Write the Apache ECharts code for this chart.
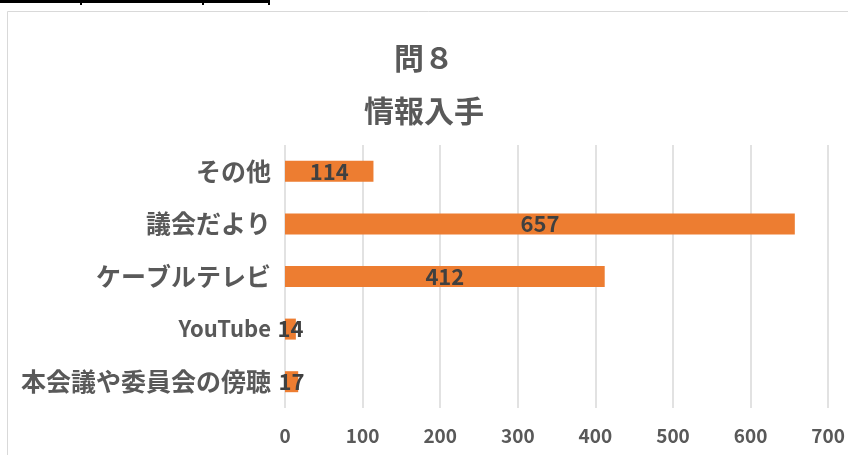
<!DOCTYPE html>
<html>
<head>
<meta charset="utf-8">
<script src="https://cdn.jsdelivr.net/npm/echarts@6/dist/echarts.min.js"></script>
<style>
  html, body { margin: 0; padding: 0; background: #fff; }
  #chart { width: 848px; height: 455px; }
</style>
</head>
<body>
<div id="chart"></div>
<script>
// data
const categories = ["その他", "議会だより", "ケーブルテレビ", "YouTube", "本会議や委員会の傍聴"];
const counts = [114, 657, 412, 14, 17];
const xTicks = [0, 100, 200, 300, 400, 500, 600, 700];

const font = '"Noto Sans CJK JP", "Noto Sans", sans-serif';
const grey = "#595959";

// latin-only labels are drawn a little smaller, as in the original
const yData = categories.map(c =>
  /^[A-Za-z ]+$/.test(c) ? { value: c, textStyle: { fontSize: 22 } } : c
);

const chart = echarts.init(document.getElementById("chart"));
chart.setOption({
  animation: false,
  backgroundColor: "#fff",
  title: [
    {
      text: "問８",
      left: "center",
      top: 38,
      textStyle: { fontFamily: font, fontSize: 30, fontWeight: "bold", color: grey }
    },
    {
      text: "情報入手",
      left: "center",
      top: 91,
      textStyle: { fontFamily: font, fontSize: 30, fontWeight: "bold", color: grey }
    }
  ],
  grid: { left: 285, right: 17, top: 145, bottom: 47 },
  xAxis: {
    type: "value",
    min: xTicks[0],
    max: xTicks[xTicks.length - 1],
    interval: 100,
    axisLine: { show: false },
    axisTick: { show: false },
    axisLabel: {
      margin: 18,
      fontFamily: font,
      fontSize: 19,
      fontWeight: "bold",
      color: grey
    },
    splitLine: { lineStyle: { color: "#d9d9d9", width: 1.5 } }
  },
  yAxis: {
    type: "category",
    inverse: true,
    data: yData,
    axisLine: { show: false },
    axisTick: { show: false },
    axisLabel: {
      margin: 14,
      fontFamily: font,
      fontSize: 25,
      fontWeight: "bold",
      color: grey
    }
  },
  series: [
    {
      type: "bar",
      data: counts,
      barWidth: 21,
      itemStyle: { color: "#ED7D31" },
      label: {
        show: true,
        position: "inside",
        fontFamily: font,
        fontSize: 22,
        fontWeight: "bold",
        color: "#404040"
      }
    }
  ],
  graphic: [
    {
      type: "rect",
      shape: { x: 7.5, y: 11.5, width: 845, height: 450 },
      style: { fill: null, stroke: "#d9d9d9", lineWidth: 1 }
    },
    {
      type: "rect",
      shape: { x: 0, y: 0, width: 270, height: 3 },
      style: { fill: "#000" }
    },
    { type: "rect", shape: { x: 80, y: 0, width: 2, height: 5 }, style: { fill: "#000" } },
    { type: "rect", shape: { x: 202, y: 0, width: 2, height: 5 }, style: { fill: "#000" } },
    { type: "rect", shape: { x: 268, y: 0, width: 2, height: 5 }, style: { fill: "#000" } }
  ]
});
</script>
</body>
</html>
